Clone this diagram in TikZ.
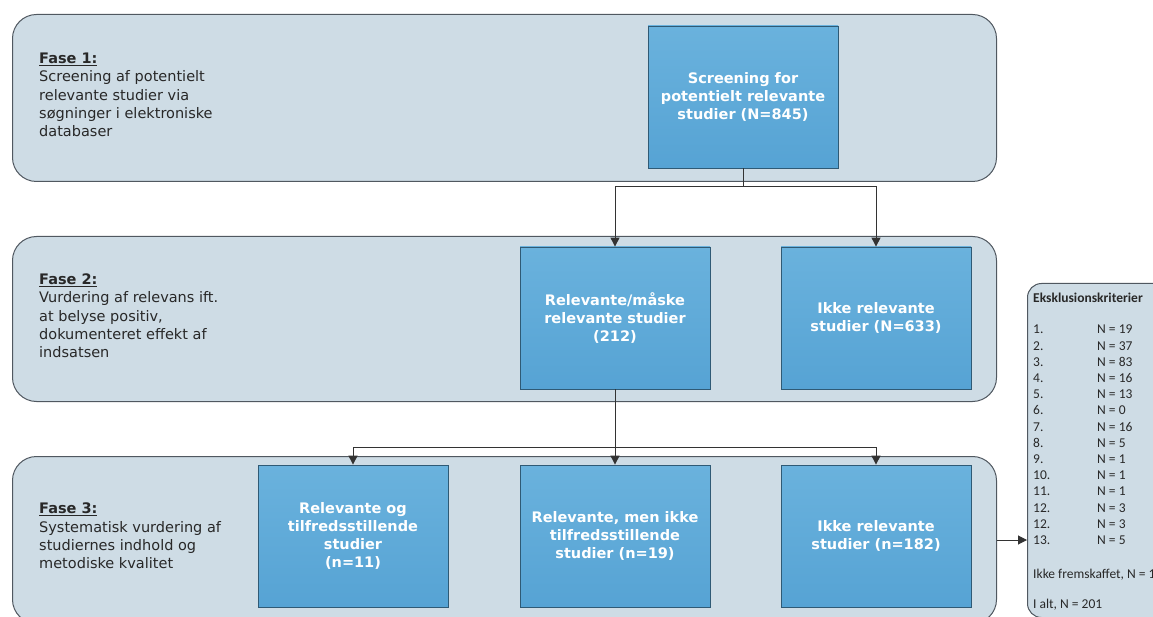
\documentclass[tikz,border=0pt]{standalone}
\usepackage{fontspec}
\usepackage{xcolor}
\setmainfont{DejaVu Sans}
\newfontfamily\calibrifont{Carlito}
\usetikzlibrary{arrows.meta,positioning}

\definecolor{fasefyld}{RGB}{206,220,229}
\definecolor{fasekant}{RGB}{80,88,96}
\definecolor{boksop}{RGB}{106,178,221}
\definecolor{boksned}{RGB}{86,163,212}
\definecolor{brodtekst}{RGB}{40,40,40}

\tikzset{
  fase/.style={draw=fasekant, line width=1pt, fill=fasefyld, rounded corners=24pt,
    minimum width=984pt, minimum height=167pt, anchor=north west, inner sep=0pt},
  fasetekst/.style={anchor=west, align=left, text=brodtekst, inner sep=0pt,
    font=\fontsize{14.5}{18.3}\selectfont},
  boks/.style={draw=boksned!55!black, line width=0.8pt, top color=boksop, bottom color=boksned,
    minimum width=190pt, minimum height=142pt, inner sep=2pt, align=center, text=white,
    font=\bfseries\fontsize{14.5}{18}\selectfont},
  pil/.style={draw=black!80, line width=1pt, -{Triangle[length=9pt,width=9pt]}}
}

\begin{document}
\begin{tikzpicture}[x=1pt,y=-1pt]
  \useasboundingbox (0,0) rectangle (1153,617);
  \clip (0,0) rectangle (1153,617);

  % Draw the three phases
  \node[fase] (fase1) at (12,14) {};
  \node[fase, minimum height=165pt] (fase2) at (12,236) {};
  \node[fase] (fase3) at (12,456) {};

  \node[fasetekst] (tekst1) at (39,95) {\underline{\textbf{Fase 1:}}\\Screening af potentielt\\relevante studier via\\søgninger i elektroniske\\databaser};
  \node[fasetekst] (tekst2) at (39,316) {\underline{\textbf{Fase 2:}}\\Vurdering af relevans ift.\\at belyse positiv,\\dokumenteret effekt af\\indsatsen};
  \node[fasetekst] (tekst3) at (39,536) {\underline{\textbf{Fase 3:}}\\Systematisk vurdering af\\studiernes indhold og\\metodiske kvalitet};

  % Boxes
  \node[boks] (screening) at (743,97) {Screening for\\potentielt relevante\\studier (N=845)};
  \node[boks] (relevant) at (615,318) {Relevante/måske\\relevante studier\\(212)};
  \node[boks] (ikkerel) at (876,318) {Ikke relevante\\studier (N=633)};
  \node[boks] (tilfreds) at (353,536) {Relevante og\\tilfredsstillende\\studier\\(n=11)};
  \node[boks] (menikke) at (615,536) {Relevante, men ikke\\tilfredsstillende\\studier (n=19)};
  \node[boks] (ikkerel3) at (876,536) {Ikke relevante\\studier (n=182)};

  % Exclusion list
  \node[draw=fasekant, line width=1pt, fill=fasefyld, rounded corners=14pt, anchor=north west,
    minimum width=160pt, minimum height=334pt, inner sep=0pt] (eks) at (1027,283) {};
  \node[anchor=north west, align=left, inner sep=0pt, text=brodtekst,
    font=\calibrifont\fontsize{13.5}{16.2}\selectfont] (ekstekst) at (1033,293)
    {\textbf{Eksklusionskriterier}\\[15pt]
     \makebox[64pt][l]{1.}N = 19\\
     \makebox[64pt][l]{2.}N = 37\\
     \makebox[64pt][l]{3.}N = 83\\
     \makebox[64pt][l]{4.}N = 16\\
     \makebox[64pt][l]{5.}N = 13\\
     \makebox[64pt][l]{6.}N = 0\\
     \makebox[64pt][l]{7.}N = 16\\
     \makebox[64pt][l]{8.}N = 5\\
     \makebox[64pt][l]{9.}N = 1\\
     \makebox[64pt][l]{10.}N = 1\\
     \makebox[64pt][l]{11.}N = 1\\
     \makebox[64pt][l]{12.}N = 3\\
     \makebox[64pt][l]{12.}N = 3\\
     \makebox[64pt][l]{13.}N = 5\\[18pt]
     Ikke fremskaffet, N = 1\\[14pt]
     I alt, N = 201};

  % Arrows
  \coordinate (split1) at (743,187);
  \coordinate (split2) at (615,447);
  \draw[pil] (screening.south) -- (split1) -| (relevant.north);
  \draw[pil] (split1) -| (ikkerel.north);
  \draw[pil] (relevant.south) -- (menikke.north);
  \draw[pil] (split2) -| (tilfreds.north);
  \draw[pil] (split2) -| (ikkerel3.north);
  \draw[pil] (fase3.east) -- (eks.west |- fase3.east);
\end{tikzpicture}
\end{document}
